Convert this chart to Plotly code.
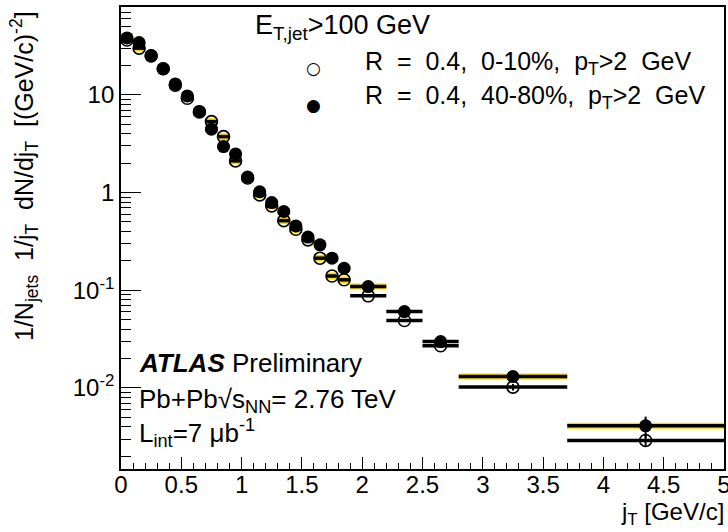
import plotly.graph_objects as go

# ---- data ----
jt_centers = [0.05, 0.15, 0.25, 0.35, 0.45, 0.55, 0.65, 0.75, 0.85, 0.95,
              1.05, 1.15, 1.25, 1.35, 1.45, 1.55, 1.65, 1.75, 1.85,
              2.05, 2.35, 2.65, 3.25, 4.35]
jt_halfwidth = [0.05] * 19 + [0.15, 0.15, 0.15, 0.45, 0.65]

central_vals = [36.5, 30.1, 25.1, 18.5, 12.6, 9.25, 6.7, 5.33, 3.74, 2.11,
                1.41, 0.947, 0.731, 0.516, 0.421, 0.328, 0.213, 0.140, 0.128,
                0.0877, 0.049, 0.027, 0.0102, 0.0029]
central_err = [0.5, 0.4, 0.3, 0.2, 0.15, 0.1, 0.08, 0.06, 0.05, 0.03,
               0.02, 0.015, 0.012, 0.01, 0.008, 0.007, 0.005, 0.004, 0.004,
               0.002, 0.0015, 0.0012, 0.0008, 0.0004]

periph_vals = [38.3, 34.3, 25.1, 18.5, 12.97, 9.76, 6.74, 4.46, 2.96, 2.49,
               1.44, 1.02, 0.79, 0.64, 0.456, 0.35, 0.292, 0.213, 0.168,
               0.109, 0.0605, 0.0298, 0.0131, 0.00409]
periph_err = [0.8, 0.7, 0.5, 0.4, 0.3, 0.2, 0.15, 0.1, 0.07, 0.06,
              0.04, 0.03, 0.025, 0.02, 0.016, 0.013, 0.011, 0.009, 0.008,
              0.004, 0.003, 0.0036, 0.0011, 0.001]

# bins where the wide yellow systematic band of the 40-80% sample is visible
periph_wide_syst_bins = [19, 22, 23]

y_tickvals = [0.01, 0.1, 1, 10]
y_ticktext = ["10<sup>-2</sup>", "10<sup>-1</sup>", "1", "10"]
y_minor = [m * 10.0 ** e for e in range(-3, 2) for m in range(2, 10)]

N_NARROW = 19
FONT = "Liberation Sans, Arial, Helvetica, sans-serif"
SYM = "DejaVu Sans, sans-serif"
YELLOW = "#ffd800"
NB = "\u00a0"

fig = go.Figure()

# systematic (yellow) boxes
wide_x = [jt_centers[i] for i in periph_wide_syst_bins]
wide_y = [periph_vals[i] for i in periph_wide_syst_bins]
wide_hw = [jt_halfwidth[i] for i in periph_wide_syst_bins]
for xs, ys, hw, th in (
        (jt_centers[:N_NARROW], central_vals[:N_NARROW], jt_halfwidth[:N_NARROW], 7),
        (jt_centers[:N_NARROW], periph_vals[:N_NARROW], jt_halfwidth[:N_NARROW], 7),
        (wide_x, wide_y, wide_hw, 6)):
    fig.add_trace(go.Scatter(
        x=xs, y=ys, mode="markers",
        marker=dict(size=1, color="rgba(0,0,0,0)"),
        error_x=dict(type="data", array=hw, color=YELLOW, thickness=th, width=0),
        showlegend=False, hoverinfo="skip"))

# 0-10% open circles
fig.add_trace(go.Scatter(
    x=jt_centers, y=central_vals, mode="markers",
    marker=dict(symbol="circle-open", size=12, color="black",
                line=dict(width=1.6, color="black")),
    error_x=dict(type="data", array=jt_halfwidth, color="black",
                 thickness=3.5, width=0),
    error_y=dict(type="data", array=central_err, color="black",
                 thickness=2, width=0),
    showlegend=False))

# 40-80% filled circles
fig.add_trace(go.Scatter(
    x=jt_centers, y=periph_vals, mode="markers",
    marker=dict(symbol="circle", size=13, color="black"),
    error_x=dict(type="data", array=jt_halfwidth, color="black",
                 thickness=3.5, width=0),
    error_y=dict(type="data", array=periph_err, color="black",
                 thickness=2, width=0),
    showlegend=False))

fig.update_xaxes(
    range=[0, 5], dtick=0.5, tick0=0, automargin=False,
    ticklabeloverflow="allow", ticklabelstandoff=-7,
    ticks="inside", ticklen=12, tickwidth=1.2, tickcolor="black",
    minor=dict(dtick=0.1, ticks="inside", ticklen=6, tickwidth=1.2, tickcolor="black"),
    showline=True, linecolor="black", linewidth=1.8, mirror=True,
    showgrid=False, zeroline=False,
    tickfont=dict(family=FONT, size=24, color="black"))

fig.update_yaxes(
    type="log", range=[-2.83, 1.90], automargin=False,
    tickvals=y_tickvals, ticktext=y_ticktext,
    ticks="inside", ticklen=20, tickwidth=1.2, tickcolor="black",
    minor=dict(tickvals=y_minor, ticks="inside", ticklen=10, tickwidth=1.2, tickcolor="black"),
    showline=True, linecolor="black", linewidth=1.8, mirror=True,
    showgrid=False, zeroline=False,
    tickfont=dict(family=FONT, size=24, color="black"))

# plot frame in screen px: x 121..724, y 7..469
def px(x):
    return (x - 121) / 603.0

def py(y):
    return (469 - y) / 462.0

anns = [
    dict(text="E<sub>T,jet</sub>>100 GeV", x=px(253), y=py(27), xanchor="left", size=27, fam=FONT),
    dict(text="○", x=px(313), y=py(68), xanchor="center", size=17, fam=SYM),
    dict(text=f"R{NB} ={NB} 0.4,{NB} 0-10%,{NB} p<sub>T</sub>>2{NB} GeV",
         x=px(363), y=py(63), xanchor="left", size=25, fam=FONT),
    dict(text="●", x=px(313), y=py(105), xanchor="center", size=17, fam=SYM),
    dict(text=f"R{NB} ={NB} 0.4,{NB} 40-80%,{NB} p<sub>T</sub>>2{NB} GeV",
         x=px(363), y=py(97), xanchor="left", size=25, fam=FONT),
    dict(text="<b><i>ATLAS</i></b> Preliminary", x=px(137), y=py(363), xanchor="left", size=26, fam=FONT),
    dict(text="Pb+Pb√s<sub>NN</sub>= 2.76 TeV", x=px(137), y=py(400), xanchor="left", size=26, fam=FONT),
    dict(text="L<sub>int</sub>=7 μb<sup>-1</sup>", x=px(137), y=py(433), xanchor="left", size=26, fam=FONT),
    dict(text="j<sub>T</sub> [GeV/c]", x=px(726), y=py(513), xanchor="right", size=24, fam=FONT),
]
for a in anns:
    fig.add_annotation(text=a["text"], x=a["x"], y=a["y"], xref="paper", yref="paper",
                       xanchor=a["xanchor"], yanchor="middle", showarrow=False,
                       font=dict(family=a["fam"], size=a["size"], color="black"))

fig.add_annotation(
    text=f"1/N<sub>jets</sub>{NB} 1/j<sub>T</sub>{NB} dN/dj<sub>T</sub>{NB} [(GeV/c)<sup>-2</sup>]",
    x=px(24), y=py(9), xref="paper", yref="paper", xanchor="center", yanchor="top",
    textangle=-90, showarrow=False, font=dict(family=FONT, size=25, color="black"))

fig.update_layout(
    width=728, height=532,
    margin=dict(l=121, r=4, t=7, b=63),
    paper_bgcolor="white", plot_bgcolor="white",
    showlegend=False)

fig.write_html(
    "out.html",
    config={"displayModeBar": False},
    post_script="document.body.style.margin='0';document.body.style.overflow='hidden';")
